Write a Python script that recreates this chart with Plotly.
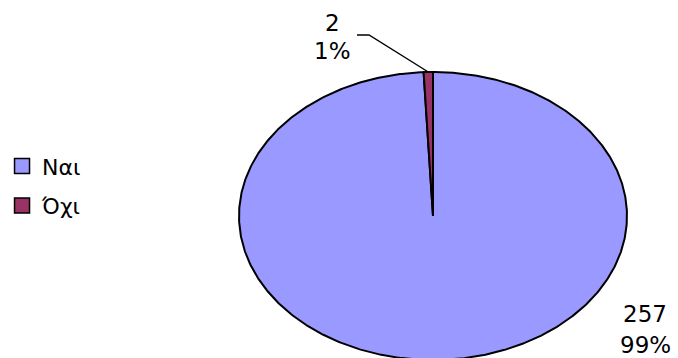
import numpy as np
import plotly.graph_objects as go

# ---- data ----
categories = ["Ναι", "Όχι"]
values = [257, 2]
colors = ["#9999FF", "#993366"]

# ---- layout constants (pixel space) ----
W, H = 678, 358
CX, CY = 433, 216      # pie centre
RX, RY = 194, 144      # ellipse radii (chart is stretched horizontally)
FONT = "DejaVu Sans, Verdana, sans-serif"

total = sum(values)
fracs = [v / total for v in values]


def pt(t, r=1.0):
    # t: clockwise angle from 12 o'clock (radians)
    return CX + r * RX * np.sin(t), CY - r * RY * np.cos(t)


fig = go.Figure()

start = 0.0
mids = []
for cat, v, f, col in zip(categories, values, fracs, colors):
    end = start + 2 * np.pi * f
    n = max(4, int(720 * f))
    ts = np.linspace(start, end, n)
    xs, ys = pt(ts)
    xs = np.concatenate([[CX], xs, [CX]])
    ys = np.concatenate([[CY], ys, [CY]])
    fig.add_trace(go.Scatter(
        x=xs, y=ys, mode="lines", fill="toself", fillcolor=col,
        line=dict(color="black", width=2), showlegend=False,
        hoverinfo="skip"))
    mids.append((start + end) / 2)
    start = end

# legend entries
for i, (cat, col) in enumerate(zip(categories, colors)):
    fig.add_trace(go.Scatter(
        x=[None], y=[None], mode="markers", name=cat, legendgroup=str(i),
        marker=dict(symbol="square", size=15, color=col,
                    line=dict(color="black", width=1.5))))

# labels
label_pos = {"Όχι": (332, 23, 51), "Ναι": (645, 314, 345)}
for cat, v, f in zip(categories, values, fracs):
    lx, ly1, ly2 = label_pos[cat]
    for txt, ly in ((f"{v}", ly1), (f"{round(f * 100)}%", ly2)):
        fig.add_annotation(x=lx, y=ly, text=txt, showarrow=False,
                           xanchor="center", yanchor="middle",
                           font=dict(family=FONT, size=23, color="black"))

# leader line for the small slice
mx, my = pt(mids[1])
fig.add_shape(type="path",
              path=f"M 357 35 L 369 35 L {mx:.1f} {my:.1f}",
              line=dict(color="black", width=1.4), xref="x", yref="y")

fig.update_layout(
    width=W, height=H, autosize=False,
    margin=dict(l=0, r=0, t=0, b=0),
    paper_bgcolor="white", plot_bgcolor="white",
    xaxis=dict(range=[0, W], visible=False, fixedrange=True),
    yaxis=dict(range=[H, 0], visible=False, fixedrange=True),
    showlegend=True,
    legend=dict(x=0.003, y=0.48, xanchor="left", yanchor="middle",
                font=dict(family=FONT, size=22, color="black"),
                traceorder="grouped", tracegroupgap=8,
                bgcolor="rgba(0,0,0,0)", itemclick=False),
    font=dict(family=FONT),
)

fig.write_html("out.html")
